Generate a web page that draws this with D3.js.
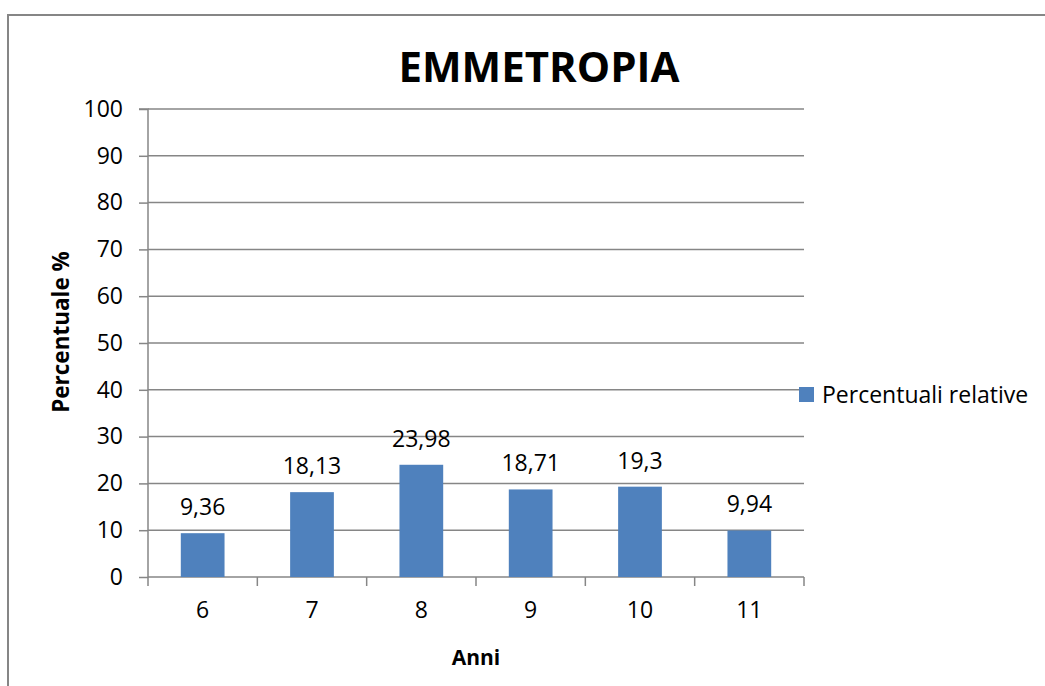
<!DOCTYPE html>
<html>
<head>
<meta charset="utf-8">
<script src="https://cdn.jsdelivr.net/npm/d3@7"></script>
<style>
html,body{margin:0;padding:0;background:#fff;}
svg{display:block;font-family:"Open Sans",sans-serif;}
</style>
</head>
<body>
<svg id="chart" width="1045" height="686"></svg>
<script>
const categories = ["6","7","8","9","10","11"];
const values = [9.36, 18.13, 23.98, 18.71, 19.3, 9.94];
const valueLabels = ["9,36","18,13","23,98","18,71","19,3","9,94"];
const yTicks = [0,10,20,30,40,50,60,70,80,90,100];
const seriesName = "Percentuali relative";
const title = "EMMETROPIA";
const xTitle = "Anni";
const yTitle = "Percentuale %";

(function(){
const svg = d3.select("#chart");
const gridColor = "#868686";
const barColor = "#4f81bd";

// outer frame
svg.append("rect").attr("x",8).attr("y",15).attr("width",1100).attr("height",700)
  .attr("fill","none").attr("stroke",gridColor).attr("stroke-width",2);

const pL = 148, pR = 804, pT = 109, pB = 577;
const x = d3.scaleBand().domain(categories).range([pL,pR]).paddingInner(0.6).paddingOuter(0.3);
const y = d3.scaleLinear().domain([0,100]).range([pB,pT]);

// gridlines
svg.append("g").selectAll("line").data(yTicks.filter(d=>d>0)).join("line")
  .attr("x1",pL).attr("x2",pR).attr("y1",d=>y(d)).attr("y2",d=>y(d))
  .attr("stroke",gridColor).attr("stroke-width",1.5);

// y axis
const yAxis = d3.axisLeft(y).tickValues(yTicks).tickSize(9).tickPadding(16).tickFormat(d=>d);
const gy = svg.append("g").attr("transform",`translate(${pL},0)`).call(yAxis);
gy.select(".domain").attr("stroke",gridColor).attr("stroke-width",1.5).attr("d",`M-9,${pT}H0V${pB}`);
gy.selectAll(".tick line").attr("stroke",gridColor).attr("stroke-width",1.5);
gy.selectAll(".tick text").attr("font-size",23).attr("fill","#000").attr("font-family","Open Sans");

// x axis
const step = x.step();
const boundaries = d3.range(categories.length+1).map(i=>pL+i*step);
const gx = svg.append("g");
gx.append("line").attr("x1",pL).attr("x2",pR).attr("y1",pB).attr("y2",pB)
  .attr("stroke",gridColor).attr("stroke-width",1.5);
gx.selectAll("line.t").data(boundaries).join("line").attr("class","t")
  .attr("x1",d=>d).attr("x2",d=>d).attr("y1",pB).attr("y2",pB+9)
  .attr("stroke",gridColor).attr("stroke-width",1.5);
gx.selectAll("text").data(categories).join("text")
  .attr("x",d=>x(d)+x.bandwidth()/2).attr("y",618).attr("text-anchor","middle")
  .attr("font-size",23).attr("fill","#000").text(d=>d);

// bars
svg.append("g").selectAll("rect").data(values).join("rect")
  .attr("x",(d,i)=>x(categories[i])).attr("width",x.bandwidth())
  .attr("y",d=>y(d)).attr("height",d=>pB-y(d)).attr("fill",barColor);

// value labels
svg.append("g").selectAll("text").data(values).join("text")
  .attr("x",(d,i)=>x(categories[i])+x.bandwidth()/2).attr("y",d=>y(d)-18)
  .attr("text-anchor","middle").attr("font-size",23).attr("fill","#000")
  .text((d,i)=>valueLabels[i]);

// title
svg.append("text").attr("x",539).attr("y",82).attr("text-anchor","middle")
  .attr("font-size",42).attr("font-weight","bold").attr("fill","#000").text(title);

// axis titles
svg.append("text").attr("x",(pL+pR)/2).attr("y",665).attr("text-anchor","middle")
  .attr("font-size",21).attr("font-weight","bold").attr("fill","#000").text(xTitle);
svg.append("text").attr("transform","translate(69,332) rotate(-90)").attr("text-anchor","middle")
  .attr("font-size",22.5).attr("font-weight","bold").attr("fill","#000").text(yTitle);

// legend
const lg = svg.append("g");
lg.append("rect").attr("x",799).attr("y",387).attr("width",15).attr("height",15).attr("fill",barColor);
lg.append("text").attr("x",822).attr("y",403).attr("font-size",23).attr("fill","#000").text(seriesName);
})();
</script>
</body>
</html>
